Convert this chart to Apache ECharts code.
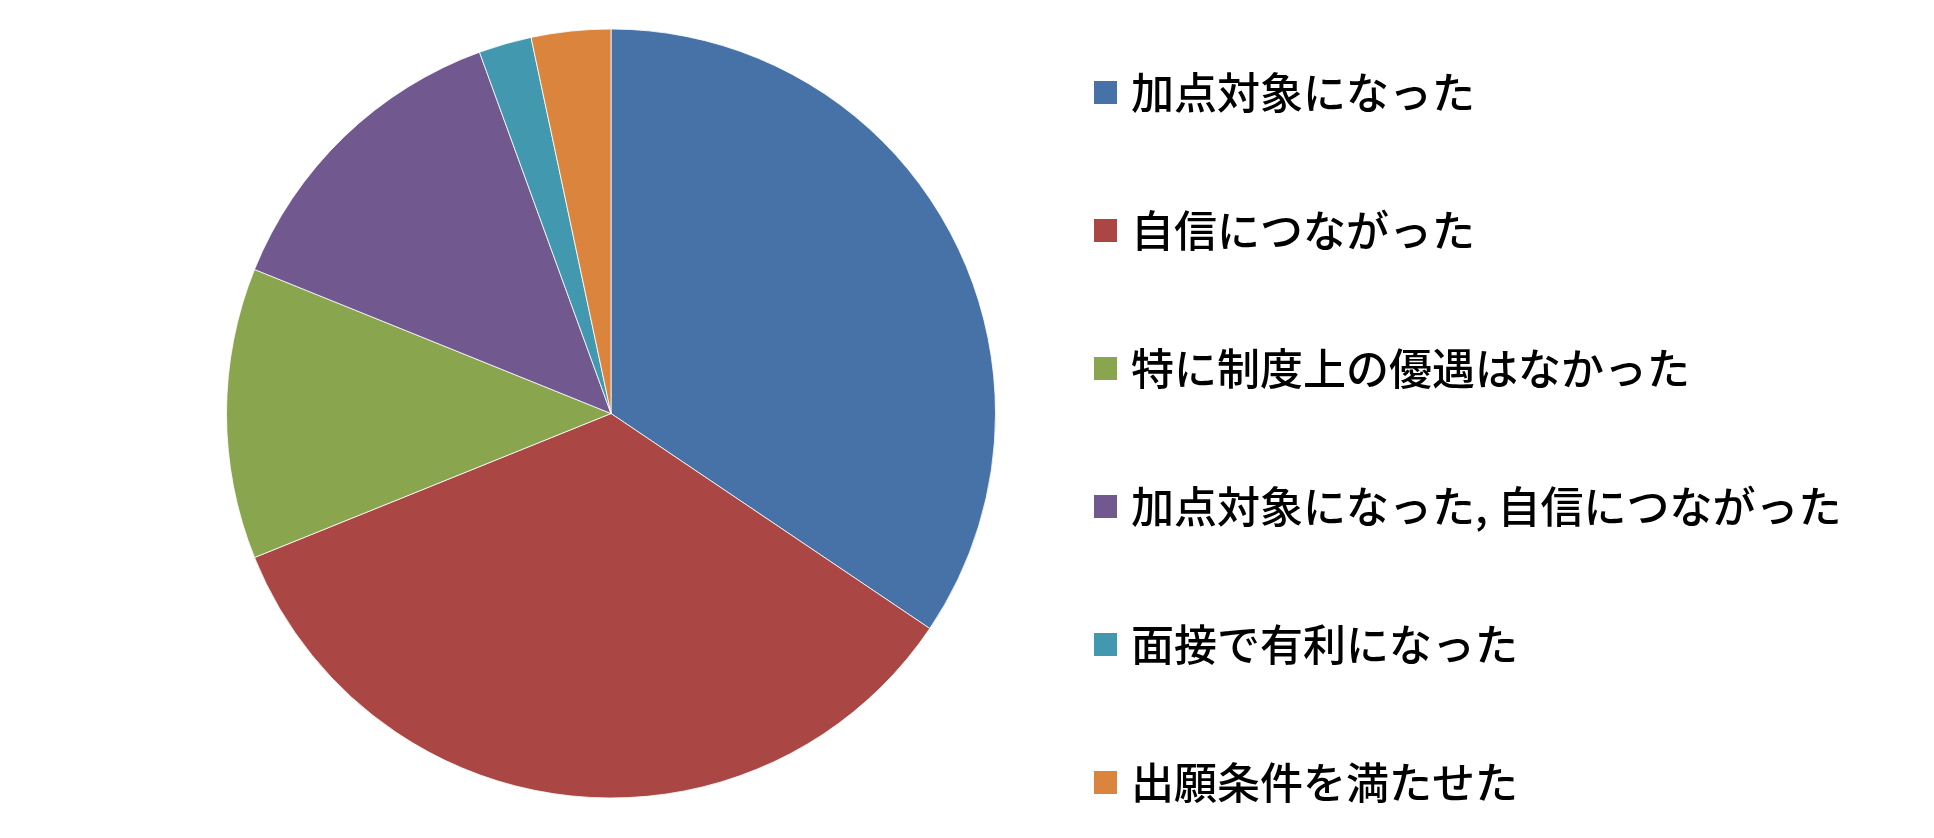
<!DOCTYPE html>
<html>
<head>
<meta charset="utf-8">
<script src="https://cdn.jsdelivr.net/npm/echarts@6/dist/echarts.min.js"></script>
<style>
  html, body { margin: 0; padding: 0; background: #fff; }
  #chart { width: 1934px; height: 838px; }
</style>
</head>
<body>
<div id="chart"></div>
<script>
// 回答の内訳
var categories = [
  '加点対象になった',
  '自信につながった',
  '特に制度上の優遇はなかった',
  '加点対象になった, 自信につながった',
  '面接で有利になった',
  '出願条件を満たせた'
];
var counts = [31, 31, 11, 12, 2, 3];
var colors = ['#4672A7', '#AA4643', '#89A54E', '#71588F', '#4198AF', '#DB843D'];

(function () {
  var myChart = echarts.init(document.getElementById('chart'));

  var pieData = categories.map(function (name, i) {
    return { name: name, value: counts[i], itemStyle: { color: colors[i] } };
  });

  var option = {
    animation: false,
    backgroundColor: '#fff',
    legend: {
      orient: 'vertical',
      left: 1092,
      top: 71,
      padding: 0,
      itemWidth: 25,
      itemHeight: 25,
      itemGap: 95,
      icon: 'rect',
      textStyle: {
        color: '#000',
        fontFamily: 'Noto Sans CJK JP',
        fontWeight: 500,
        fontSize: 43,
        lineHeight: 43,
        padding: [0, 0, 0, 8]
      },
      data: categories
    },
    series: [
      {
        type: 'pie',
        center: [611, 413.5],
        radius: 384.5,
        startAngle: 90,
        clockwise: true,
        label: { show: false },
        labelLine: { show: false },
        itemStyle: {
          borderColor: '#ffffff',
          borderWidth: 0.8
        },
        emphasis: { disabled: true },
        data: pieData
      }
    ]
  };

  myChart.setOption(option);
})();
</script>
</body>
</html>
